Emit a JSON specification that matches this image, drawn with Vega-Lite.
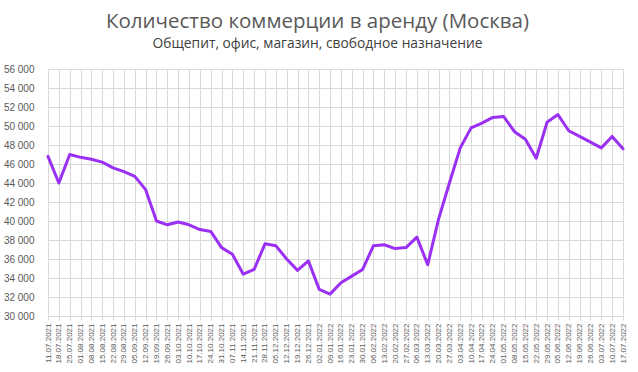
{
  "$schema": "https://vega.github.io/schema/vega-lite/v6.json",
  "autosize": {"type": "none"},
  "width": 575,
  "height": 247,
  "padding": {"left": 48, "top": 69, "right": 15, "bottom": 56},
  "background": "white",
  "title": {
    "text": "Количество коммерции в аренду (Москва)",
    "subtitle": "Общепит, офис, магазин, свободное назначение",
    "anchor": "middle",
    "dx": -18,
    "offset": 13,
    "font": "Open Sans",
    "fontSize": 20.5,
    "fontWeight": "normal",
    "color": "#595959",
    "subtitleFont": "Open Sans",
    "subtitleFontSize": 13.8,
    "subtitleColor": "#404040",
    "subtitlePadding": 5
  },
  "data": {
    "values": [
      {"date": "11.07.2021", "value": 46800},
      {"date": "18.07.2021", "value": 44000},
      {"date": "25.07.2021", "value": 47000},
      {"date": "01.08.2021", "value": 46700},
      {"date": "08.08.2021", "value": 46500},
      {"date": "15.08.2021", "value": 46200},
      {"date": "22.08.2021", "value": 45600},
      {"date": "29.08.2021", "value": 45200},
      {"date": "05.09.2021", "value": 44700},
      {"date": "12.09.2021", "value": 43300},
      {"date": "19.09.2021", "value": 40000},
      {"date": "26.09.2021", "value": 39600},
      {"date": "03.10.2021", "value": 39900},
      {"date": "10.10.2021", "value": 39600},
      {"date": "17.10.2021", "value": 39100},
      {"date": "24.10.2021", "value": 38900},
      {"date": "31.10.2021", "value": 37200},
      {"date": "07.11.2021", "value": 36500},
      {"date": "14.11.2021", "value": 34400},
      {"date": "21.11.2021", "value": 34900},
      {"date": "28.11.2021", "value": 37600},
      {"date": "05.12.2021", "value": 37400},
      {"date": "12.12.2021", "value": 36000},
      {"date": "19.12.2021", "value": 34800},
      {"date": "26.12.2021", "value": 35800},
      {"date": "02.01.2022", "value": 32800},
      {"date": "09.01.2022", "value": 32300},
      {"date": "16.01.2022", "value": 33500},
      {"date": "23.01.2022", "value": 34200},
      {"date": "30.01.2022", "value": 34900},
      {"date": "06.02.2022", "value": 37400},
      {"date": "13.02.2022", "value": 37500},
      {"date": "20.02.2022", "value": 37100},
      {"date": "27.02.2022", "value": 37200},
      {"date": "06.03.2022", "value": 38300},
      {"date": "13.03.2022", "value": 35400},
      {"date": "20.03.2022", "value": 40200},
      {"date": "27.03.2022", "value": 44000},
      {"date": "03.04.2022", "value": 47700},
      {"date": "10.04.2022", "value": 49800},
      {"date": "17.04.2022", "value": 50300},
      {"date": "24.04.2022", "value": 50900},
      {"date": "01.05.2022", "value": 51000},
      {"date": "08.05.2022", "value": 49400},
      {"date": "15.05.2022", "value": 48600},
      {"date": "22.05.2022", "value": 46600},
      {"date": "29.05.2022", "value": 50400},
      {"date": "05.06.2022", "value": 51200},
      {"date": "12.06.2022", "value": 49500},
      {"date": "19.06.2022", "value": 48900},
      {"date": "26.06.2022", "value": 48300},
      {"date": "03.07.2022", "value": 47700},
      {"date": "10.07.2022", "value": 48900},
      {"date": "17.07.2022", "value": 47600}
    ]
  },
  "mark": {"type": "line", "color": "#9b30f5", "strokeWidth": 3, "strokeJoin": "round", "strokeCap": "round"},
  "encoding": {
    "x": {
      "field": "date",
      "type": "ordinal",
      "sort": null,
      "scale": {"type": "point", "padding": 0},
      "axis": {
        "title": null,
        "labelAngle": -90,
        "labelFont": "Liberation Sans",
        "labelFontSize": 8,
        "labelColor": "#595959",
        "labelPadding": 3,
        "grid": true,
        "gridColor": "#d9d9d9",
        "domainColor": "#d9d9d9",
        "tickColor": "#d9d9d9",
        "tickSize": 4
      }
    },
    "y": {
      "field": "value",
      "type": "quantitative",
      "scale": {"domain": [30000, 56000], "nice": false, "zero": false},
      "axis": {
        "title": null,
        "values": [30000, 32000, 34000, 36000, 38000, 40000, 42000, 44000, 46000, 48000, 50000, 52000, 54000, 56000],
        "labelExpr": "replace(format(datum.value, ','), ',', ' ')",
        "labelFont": "Liberation Sans",
        "labelFontSize": 10,
        "labelColor": "#595959",
        "labelPadding": 14,
        "domain": false,
        "ticks": false,
        "grid": true,
        "gridColor": "#d9d9d9"
      }
    }
  },
  "config": {"view": {"stroke": null}}
}
